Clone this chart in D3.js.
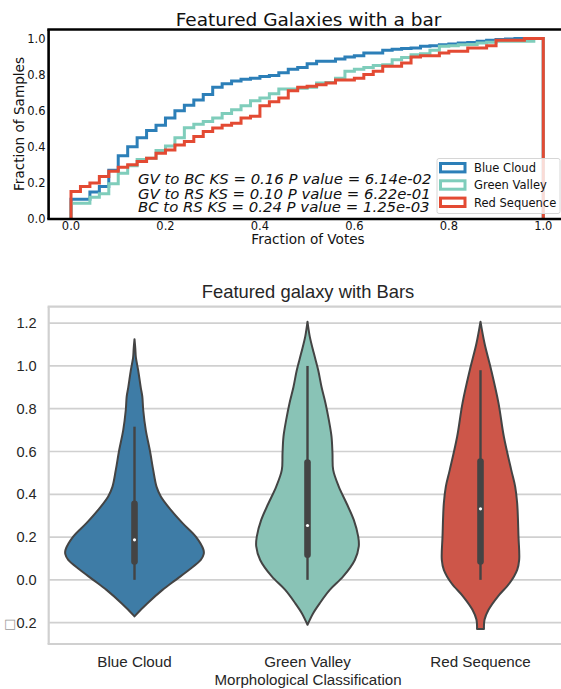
<!DOCTYPE html>
<html><head><meta charset="utf-8">
<script src="https://cdn.jsdelivr.net/npm/d3@7"></script>
<style>body{margin:0;background:#fff}svg{display:block}</style>
</head><body>
<svg id="c" width="561" height="689"></svg>
<script>
// ---------- DATA: top chart (cumulative step histograms, 50 bins of width 0.02) ----------
const cdfCategories = ["Blue Cloud", "Green Valley", "Red Sequence"];
const binWidth = 0.02;
const blueCloudCDF = [0.11,0.11,0.15,0.18,0.27,0.35,0.40,0.45,0.49,0.52,
  0.56,0.60,0.63,0.66,0.69,0.73,0.75,0.765,0.775,0.78,
  0.79,0.795,0.81,0.83,0.84,0.86,0.874,0.874,0.887,0.898,
  0.905,0.92,0.92,0.935,0.94,0.945,0.948,0.957,0.96,0.965,
  0.97,0.975,0.978,0.985,0.99,0.995,0.998,1.0,1.0,1.0];
const greenValleyCDF = [0.087,0.087,0.12,0.14,0.195,0.254,0.295,0.33,0.337,0.38,
  0.405,0.45,0.505,0.525,0.54,0.56,0.585,0.605,0.628,0.655,
  0.67,0.694,0.72,0.72,0.725,0.73,0.754,0.757,0.78,0.818,
  0.83,0.84,0.85,0.855,0.883,0.895,0.91,0.915,0.935,0.957,
  0.96,0.965,0.967,0.975,0.98,0.985,0.985,0.985,0.985,1.0];
const redSequenceCDF = [0.152,0.18,0.20,0.235,0.265,0.287,0.30,0.318,0.337,0.365,
  0.383,0.41,0.43,0.457,0.485,0.504,0.52,0.53,0.56,0.57,
  0.628,0.65,0.67,0.71,0.73,0.735,0.744,0.754,0.77,0.77,
  0.78,0.80,0.818,0.846,0.846,0.865,0.898,0.905,0.905,0.92,
  0.93,0.93,0.948,0.948,0.96,0.99,0.99,0.99,1.0,1.0];
const cdfColors = ["#2c7fb8", "#7fcdbb", "#e34a33"];
const topXTicks = [0.0, 0.2, 0.4, 0.6, 0.8, 1.0];
const topYTicks = [0.0, 0.2, 0.4, 0.6, 0.8, 1.0];
const ksLines = [
  "GV to BC KS = 0.16 P value = 6.14e-02",
  "GV to RS KS = 0.10 P value = 6.22e-01",
  "BC to RS KS = 0.24 P value = 1.25e-03"
];

// ---------- DATA: bottom chart (violins) ----------
const violinCategories = ["Blue Cloud", "Green Valley", "Red Sequence"];
// [value, relative density]
const blueViolinProfile = [[1.125,0],[1.08,0.012],[1.04,0.02],[0.98,0.053],[0.90,0.09],[0.857,0.113],
  [0.794,0.126],[0.70,0.163],[0.607,0.221],[0.514,0.27],[0.436,0.318],[0.39,0.38],[0.327,0.525],
  [0.265,0.694],[0.202,0.886],[0.14,0.997],[0.12,1.0],[0.093,0.958],[0.047,0.79],[0.0,0.597],
  [-0.047,0.405],[-0.109,0.188],[-0.14,0.091],[-0.171,0]];
const greenViolinProfile = [[1.207,0],[1.137,0.033],[1.06,0.091],[0.98,0.155],[0.903,0.202],[0.826,0.26],
  [0.748,0.308],[0.67,0.347],[0.592,0.361],[0.514,0.371],[0.436,0.452],[0.358,0.564],[0.28,0.669],
  [0.202,0.733],[0.156,0.741],[0.093,0.684],[0.016,0.516],[-0.047,0.322],[-0.109,0.178],
  [-0.156,0.082],[-0.21,0]];
const redViolinProfile = [[1.207,0],[1.106,0.058],[0.98,0.155],[0.826,0.26],[0.67,0.337],[0.514,0.444],
  [0.436,0.501],[0.358,0.53],[0.202,0.549],[0.093,0.559],[0.047,0.53],[-0.016,0.419],[-0.078,0.25],
  [-0.14,0.116],[-0.187,0.058],[-0.23,0.05]];
const violinWhiskerLow = [0.0, 0.0, 0.0];
const violinQ1 = [0.086, 0.117, 0.086];
const violinMedian = [0.187, 0.254, 0.332];
const violinQ3 = [0.356, 0.548, 0.553];
const violinWhiskerHigh = [0.716, 1.0, 0.98];
const violinColors = ["#3e7ca6", "#89c3b6", "#cd5649"];
const bottomYTicks = [-0.2, 0.0, 0.2, 0.4, 0.6, 0.8, 1.0, 1.2];

// ---------- DRAW ----------
const svg = d3.select("#c");
const DV = "'DejaVu Sans', sans-serif";
const LS = "'Liberation Sans', Arial, sans-serif";

// ===== Top chart =====
const xT = d3.scaleLinear().domain([-0.05, 1.05]).range([47.4, 566.9]);
const yT = d3.scaleLinear().domain([0, 1.05]).range([219, 29.5]);
const topG = svg.append("g");

const cdfSeries = [blueCloudCDF, greenValleyCDF, redSequenceCDF];
const stepLine = d3.line().x(d => xT(d[0])).y(d => yT(d[1])).curve(d3.curveStepAfter);
cdfSeries.forEach((vals, k) => {
  const pts = [[0, 0]];
  vals.forEach((v, i) => pts.push([i * binWidth, v]));
  pts.push([vals.length * binWidth, vals[vals.length - 1]]);
  pts.push([vals.length * binWidth, 0]);
  topG.append("path").attr("d", stepLine(pts)).attr("fill", "none")
    .attr("stroke", cdfColors[k]).attr("stroke-width", 3).attr("stroke-linejoin", "miter");
});

// spines (left, top, bottom)
topG.append("line").attr("x1", 48.6).attr("x2", 48.6).attr("y1", yT(0)).attr("y2", yT(1.05))
  .attr("stroke", "#000").attr("stroke-width", 2.6);
topG.append("line").attr("x1", 47.3).attr("x2", 566).attr("y1", yT(1.05)).attr("y2", yT(1.05))
  .attr("stroke", "#000").attr("stroke-width", 2.6);
topG.append("line").attr("x1", 47.3).attr("x2", 566).attr("y1", yT(0)).attr("y2", yT(0))
  .attr("stroke", "#000").attr("stroke-width", 2.6);

// tick labels
topG.selectAll(".xt").data(topXTicks).enter().append("text")
  .attr("x", d => xT(d)).attr("y", 229.8).attr("text-anchor", "middle")
  .attr("font-family", DV).attr("font-size", 11.5).attr("fill", "#111")
  .text(d => d3.format(".1f")(d));
topG.selectAll(".yt").data(topYTicks).enter().append("text")
  .attr("x", 45.5).attr("y", d => yT(d) + 4.3).attr("text-anchor", "end")
  .attr("font-family", DV).attr("font-size", 11.5).attr("fill", "#111")
  .text(d => d3.format(".1f")(d));

// axis labels and title
topG.append("text").attr("x", 308).attr("y", 244.3).attr("text-anchor", "middle")
  .attr("font-family", DV).attr("font-size", 13.6).attr("fill", "#111").text("Fraction of Votes");
topG.append("text").attr("transform", "translate(24,124) rotate(-90)").attr("text-anchor", "middle")
  .attr("font-family", DV).attr("font-size", 13.6).attr("fill", "#111").text("Fraction of Samples");
topG.append("text").attr("x", 308.5).attr("y", 26).attr("text-anchor", "middle")
  .attr("font-family", DV).attr("font-size", 18.5).attr("fill", "#111").text("Featured Galaxies with a bar");

// KS annotation
const ksBaselines = [184.2, 198.6, 212.4];
ksLines.forEach((t, i) => {
  topG.append("text").attr("x", 138).attr("y", ksBaselines[i])
    .attr("font-family", DV).attr("font-style", "italic").attr("font-size", 14.9)
    .attr("fill", "#111").text(t);
});

// legend
const lg = topG.append("g");
lg.append("rect").attr("x", 437).attr("y", 158.5).attr("width", 123).attr("height", 55).attr("rx", 2)
  .attr("fill", "#fff").attr("fill-opacity", 0.8).attr("stroke", "#d6d6d6").attr("stroke-width", 1);
const legendY = [167.7, 185, 202.3];
cdfCategories.forEach((c, i) => {
  lg.append("rect").attr("x", 440.5).attr("y", legendY[i] - 4.2).attr("width", 24.5).attr("height", 8.4)
    .attr("fill", "#fff").attr("stroke", cdfColors[i]).attr("stroke-width", 3);
  lg.append("text").attr("x", 474).attr("y", legendY[i] + 4.2)
    .attr("font-family", DV).attr("font-size", 11.5).attr("fill", "#111").text(c);
});

// ===== Bottom chart =====
const x2 = d3.scaleBand().domain(violinCategories).range([48, 567]).padding(0);
const y2 = d3.scaleLinear().domain([-0.3, 1.277]).range([644, 306.7]);
const botG = svg.append("g");
const gridColor = "#d0d0d0";

botG.selectAll(".grid").data(bottomYTicks).enter().append("line")
  .attr("x1", 48).attr("x2", 561).attr("y1", d => y2(d)).attr("y2", d => y2(d))
  .attr("stroke", gridColor).attr("stroke-width", 1.7);
// spines
botG.append("line").attr("x1", 48.7).attr("x2", 48.7).attr("y1", 306.7).attr("y2", 644)
  .attr("stroke", gridColor).attr("stroke-width", 2.2);
botG.append("line").attr("x1", 47.6).attr("x2", 561).attr("y1", 306.7).attr("y2", 306.7)
  .attr("stroke", gridColor).attr("stroke-width", 2.2);
botG.append("line").attr("x1", 47.6).attr("x2", 561).attr("y1", 644).attr("y2", 644)
  .attr("stroke", gridColor).attr("stroke-width", 2.2);

const profiles = [blueViolinProfile, greenViolinProfile, redViolinProfile];
const halfW = d3.scaleLinear().domain([0, 1]).range([0, x2.bandwidth() * 0.4]);
profiles.forEach((prof, i) => {
  const cx = x2(violinCategories[i]) + x2.bandwidth() / 2;
  const area = d3.area()
    .y(d => y2(d[0]))
    .x0(d => cx - halfW(d[1]))
    .x1(d => cx + halfW(d[1]))
    .curve(d3.curveCatmullRom.alpha(0.5));
  botG.append("path").attr("d", area(prof)).attr("fill", violinColors[i])
    .attr("stroke", "#444").attr("stroke-width", 2).attr("stroke-linejoin", "round");
  botG.append("line").attr("x1", cx).attr("x2", cx)
    .attr("y1", y2(violinWhiskerLow[i])).attr("y2", y2(violinWhiskerHigh[i]))
    .attr("stroke", "#444").attr("stroke-width", 2.4);
  botG.append("line").attr("x1", cx).attr("x2", cx)
    .attr("y1", y2(violinQ1[i])).attr("y2", y2(violinQ3[i]))
    .attr("stroke", "#444").attr("stroke-width", 6.6).attr("stroke-linecap", "round");
  botG.append("circle").attr("cx", cx).attr("cy", y2(violinMedian[i])).attr("r", 1.6).attr("fill", "#fff");
});

// y tick labels
botG.selectAll(".yt2").data(bottomYTicks).enter().append("text")
  .attr("x", 36.7).attr("y", d => y2(d) + 5.2).attr("text-anchor", "end")
  .attr("font-family", LS).attr("font-size", 14.6).attr("fill", "#262626")
  .each(function(d) {
    const t = d3.select(this);
    if (d < 0) {
      t.append("tspan").attr("font-family", DV).attr("font-size", 13).attr("fill", "#9a9a9a").text("\u25A1");
      t.append("tspan").text(d3.format(".1f")(-d));
    } else {
      t.text(d3.format(".1f")(d));
    }
  });
// x tick labels
botG.selectAll(".xt2").data(violinCategories).enter().append("text")
  .attr("x", d => x2(d) + x2.bandwidth() / 2).attr("y", 666.5).attr("text-anchor", "middle")
  .attr("font-family", LS).attr("font-size", 15.2).attr("fill", "#262626").text(d => d);
botG.append("text").attr("x", 308).attr("y", 685).attr("text-anchor", "middle")
  .attr("font-family", LS).attr("font-size", 15.1).attr("fill", "#262626").text("Morphological Classification");
botG.append("text").attr("x", 308).attr("y", 298.3).attr("text-anchor", "middle")
  .attr("font-family", LS).attr("font-size", 18.4).attr("fill", "#262626").text("Featured galaxy with Bars");
</script>
</body></html>
